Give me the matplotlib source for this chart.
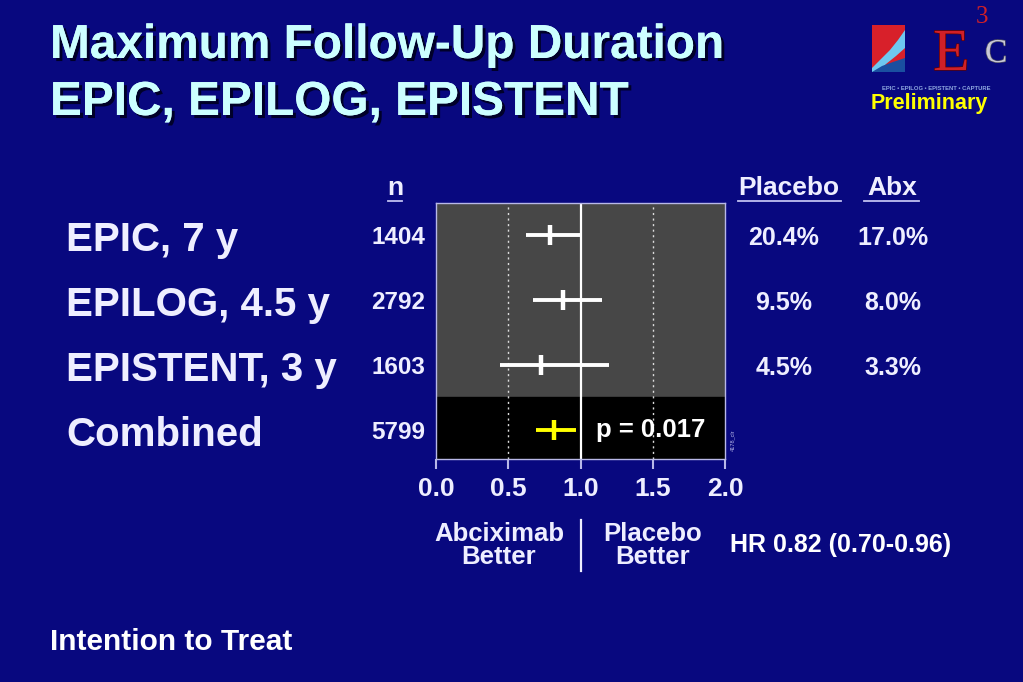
import numpy as np
import matplotlib
matplotlib.use("Agg")
import matplotlib.pyplot as plt
import matplotlib.transforms as mtransforms
import matplotlib.patheffects as pe
from matplotlib import font_manager
from matplotlib.lines import Line2D
from matplotlib.patches import Polygon, Rectangle

# ---------------- data ----------------
studies = ["EPIC, 7 y", "EPILOG, 4.5 y", "EPISTENT, 3 y", "Combined"]
n_values = ["1404", "2792", "1603", "5799"]
hr = [0.79, 0.88, 0.73, 0.82]
ci_low = [0.62, 0.67, 0.44, 0.69]
ci_high = [1.01, 1.15, 1.20, 0.97]
placebo_pct = ["20.4%", "9.5%", "4.5%"]
abx_pct = ["17.0%", "8.0%", "3.3%"]
xticks = [0.0, 0.5, 1.0, 1.5, 2.0]
xticklabels = ["0.0", "0.5", "1.0", "1.5", "2.0"]
p_text = "p = 0.017"
hr_text = "HR 0.82 (0.70-0.96)"

# ---------------- style ----------------
BG = "#08087F"
FG = "#EEEEFF"
TITLE = "#CCFFFF"
names = {f.name for f in font_manager.fontManager.ttflist}
SANS = "Liberation Sans" if "Liberation Sans" in names else "DejaVu Sans"
NARROW = "Liberation Sans Narrow" if "Liberation Sans Narrow" in names else SANS
SERIF = "Liberation Serif" if "Liberation Serif" in names else "DejaVu Serif"
plt.rcParams["font.family"] = [SANS, "DejaVu Sans"]

W, H = 1023, 682
fig = plt.figure(figsize=(W / 100, H / 100), dpi=100, facecolor=BG)

def fx(px):
    return px / W

def fy(py):
    return 1 - py / H

# ---------------- title ----------------
shadow = [pe.withSimplePatchShadow(offset=(2.2, -2.2), shadow_rgbFace="#000020", alpha=0.9), pe.Normal()]
title_size = 41 if NARROW != SANS else 34.4
fig.text(fx(50), fy(58), "Maximum Follow-Up Duration", color=TITLE, fontsize=title_size,
         fontweight="bold", family=NARROW, va="baseline", ha="left", path_effects=shadow)
fig.text(fx(50), fy(115), "EPIC, EPILOG, EPISTENT", color=TITLE, fontsize=title_size,
         fontweight="bold", family=NARROW, va="baseline", ha="left", path_effects=shadow)

# ---------------- logo ----------------
fig.patches.append(Rectangle((fx(872), fy(72)), fx(33), 47 / H, transform=fig.transFigure,
                             facecolor="#D8202A", edgecolor="none"))
wave = [(872, 68), (880, 60), (890, 50), (898, 40), (905, 30), (905, 48), (896, 56), (886, 64), (878, 72), (872, 72)]
fig.patches.append(Polygon([(fx(a), fy(b)) for a, b in wave], closed=True, transform=fig.transFigure,
                           facecolor="#6EC8F0", edgecolor="none"))
wave2 = [(872, 72), (882, 66), (893, 62), (905, 58), (905, 72)]
fig.patches.append(Polygon([(fx(a), fy(b)) for a, b in wave2], closed=True, transform=fig.transFigure,
                           facecolor="#1A4FA0", edgecolor="none"))
fig.text(fx(933), fy(70), "E", color="#D02028", fontsize=43, family=SERIF, va="baseline", ha="left",
         path_effects=[pe.withStroke(linewidth=1, foreground="#600000")])
fig.text(fx(976), fy(23), "3", color="#D02028", fontsize=18, family=SERIF, va="baseline", ha="left")
fig.text(fx(985), fy(62), "C", color="#C8C8D8", fontsize=24, family=SERIF, va="baseline", ha="left",
         path_effects=[pe.withStroke(linewidth=1, foreground="#505060")])
fig.text(fx(936), fy(88), "EPIC • EPILOG • EPISTENT • CAPTURE", color="#8FA8E0", fontsize=4.2,
         fontweight="bold", ha="center", va="center")
fig.text(fx(929), fy(103), "Preliminary", color="#FFFF00", fontsize=15.5, fontweight="bold",
         ha="center", va="center")

# ---------------- forest plot ----------------
ax = fig.add_axes([fx(436), fy(459), fx(725) - fx(436), (459 - 203) / H])
ax.set_facecolor("none")
rows = np.arange(len(studies))
ax.set_xlim(0, 2)
ax.set_ylim(3.44, -0.50)
ax.axhspan(-0.50, 2.48, color="#474747", zorder=0)
ax.axhspan(2.48, 3.44, color="#000000", zorder=0)
ax.axvline(1.0, color="white", lw=1.6, zorder=2)
for v in (0.5, 1.5):
    ax.axvline(v, color="#DDDDDD", lw=1.0, ls=(0, (1.5, 2.5)), zorder=2)

colors = ["white", "white", "white", "#FFFF00"]
for i in rows:
    ax.hlines(rows[i], ci_low[i], ci_high[i], color=colors[i], lw=2.8, zorder=3)
    ax.plot(hr[i], rows[i], marker="|", markersize=14, mew=3.2, color=colors[i], zorder=4)

ax.text(1.107, rows[3], p_text, color="white", fontsize=18.5, fontweight="bold",
        ha="left", va="center", zorder=5)

for s in ax.spines.values():
    s.set_color("#B8B8E8")
    s.set_linewidth(1.0)
ax.set_xticks(xticks)
ax.set_xticklabels(xticklabels, fontsize=19, fontweight="bold", color=FG)
ax.tick_params(axis="x", direction="out", length=7, width=1.5, color="#B8B8E8", pad=6)
ax.set_yticks(rows)
ax.set_yticklabels(n_values, fontsize=17.5, fontweight="bold", color=FG)
ax.tick_params(axis="y", length=0, pad=8)

fig.text(fx(733), fy(440), "4178_clr", rotation=90, fontsize=4, color="#B8B8E8",
         ha="center", va="center")

# row labels (baseline placed below row centre)
tr = mtransforms.blended_transform_factory(fig.transFigure, ax.transData)
tr_lab = mtransforms.offset_copy(tr, fig=fig, x=0, y=-16, units="dots")
for i, s in enumerate(studies):
    ax.text(fx(66), rows[i], s, transform=tr_lab, color=FG, fontsize=29,
            fontweight="bold", ha="left", va="baseline")

# percentages
tr_pct = mtransforms.offset_copy(tr, fig=fig, x=0, y=-9.5, units="dots")
for i in range(len(placebo_pct)):
    ax.text(fx(784), rows[i], placebo_pct[i], transform=tr_pct, color=FG, fontsize=18,
            fontweight="bold", ha="center", va="baseline")
    ax.text(fx(893), rows[i], abx_pct[i], transform=tr_pct, color=FG, fontsize=18,
            fontweight="bold", ha="center", va="baseline")

# headers with underline
for label, xc, x0, x1 in [("n", 395, 388, 402), ("Placebo", 789, 738, 841), ("Abx", 892, 864, 919)]:
    fig.text(fx(xc), fy(188), label, color=FG, fontsize=19, fontweight="bold", ha="center", va="center")
    fig.add_artist(Line2D([fx(x0), fx(x1)], [fy(201), fy(201)], color="#C0C0F0", lw=1.3))

# bottom labels
fig.text(fx(499), fy(534), "Abciximab", color=FG, fontsize=18.5, fontweight="bold", ha="center", va="center")
fig.text(fx(499), fy(557), "Better", color=FG, fontsize=18.5, fontweight="bold", ha="center", va="center")
fig.text(fx(653), fy(534), "Placebo", color=FG, fontsize=18.5, fontweight="bold", ha="center", va="center")
fig.text(fx(653), fy(557), "Better", color=FG, fontsize=18.5, fontweight="bold", ha="center", va="center")
fig.add_artist(Line2D([fx(581), fx(581)], [fy(520), fy(571)], color=FG, lw=1.6))
fig.text(fx(730), fy(545), hr_text, color="white", fontsize=18, fontweight="bold", ha="left", va="center")

fig.text(fx(50), fy(642), "Intention to Treat", color="white", fontsize=21.5, fontweight="bold",
         ha="left", va="center")

fig.savefig("out.png", dpi=100, facecolor=BG)
